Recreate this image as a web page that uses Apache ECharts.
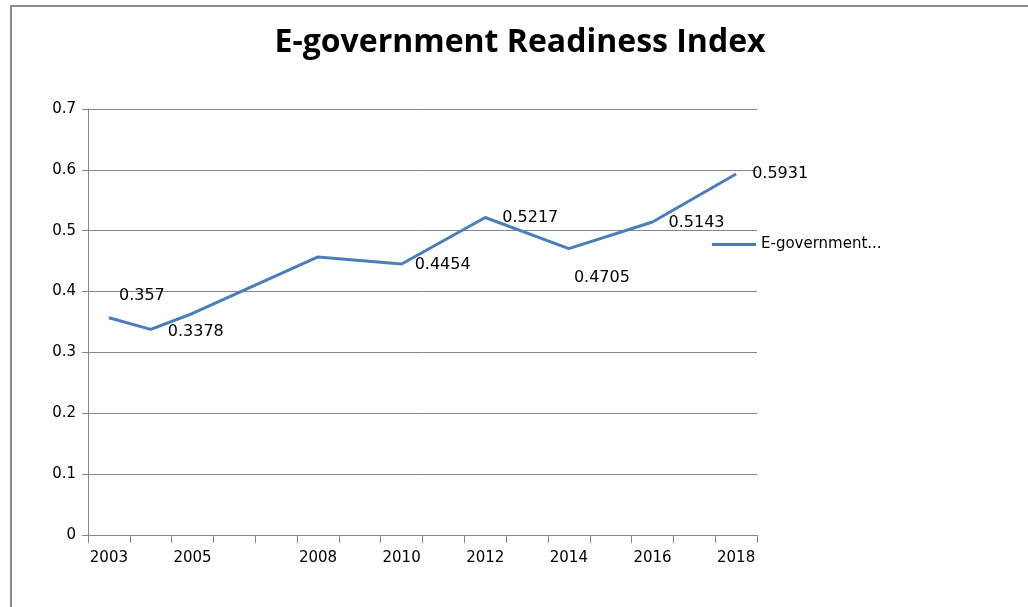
<!DOCTYPE html>
<html>
<head>
<meta charset="utf-8">
<script src="https://cdn.jsdelivr.net/npm/echarts@6/dist/echarts.min.js"></script>
<style>
  html, body { margin: 0; padding: 0; background: #fff; }
  #chart { width: 1028px; height: 607px; }
</style>
</head>
<body>
<div id="chart"></div>
<script>
// survey years on a yearly axis, gaps are years with no survey
const years = ['2003', '2004', '2005', '2006', '2007', '2008', '2009', '2010',
  '2011', '2012', '2013', '2014', '2015', '2016', '2017', '2018']
const readiness = [0.357, 0.3378, 0.364, null, null, 0.457, null, 0.4454,
  null, 0.5217, null, 0.4705, null, 0.5143, null, 0.5931]
const shownYearLabels = ['2003', '2005', '2008', '2010', '2012', '2014', '2016', '2018']
const labelledYears = ['2003', '2004', '2010', '2012', '2014', '2016', '2018']

// where each value label sits relative to its point
const labelOffsets = {
  '2003': [10, -22],
  '2004': [17, 2],
  '2010': [13, 1],
  '2012': [17, 0],
  '2014': [5, 29],
  '2016': [16, 1],
  '2018': [16, 0]
}

const chart = echarts.init(document.getElementById('chart'))

const seriesData = readiness.map((v, i) => {
  const year = years[i]
  if (v === null) return null
  return {
    value: v,
    label: {
      show: labelledYears.includes(year),
      position: 'right',
      distance: 0,
      offset: labelOffsets[year] || [0, 0]
    }
  }
})

const option = {
  backgroundColor: '#fff',
  animation: false,
  title: {
    text: 'E-government Readiness Index',
    top: 22,
    left: 515,
    textAlign: 'center',
    textStyle: {
      fontFamily: 'Open Sans',
      fontWeight: 'bold',
      fontSize: 32,
      color: '#000'
    }
  },
  legend: {
    left: 707,
    top: 232,
    icon: 'rect',
    itemWidth: 44,
    itemHeight: 3,
    itemGap: 5,
    itemStyle: { color: '#4a7ebb' },
    textStyle: {
      fontFamily: 'DejaVu Sans',
      fontSize: 15,
      color: '#000',
      width: 125,
      overflow: 'truncate',
      ellipsis: '...'
    }
  },
  grid: {
    left: 88,
    right: 271,
    top: 109,
    bottom: 72
  },
  xAxis: {
    type: 'category',
    data: years,
    boundaryGap: true,
    axisLine: { show: true, lineStyle: { color: '#868686', width: 1 } },
    axisTick: {
      show: true,
      inside: false,
      interval: 0,
      length: 8,
      lineStyle: { color: '#868686', width: 1 }
    },
    axisLabel: {
      interval: (index, value) => shownYearLabels.includes(value),
      fontFamily: 'DejaVu Sans',
      fontSize: 15,
      color: '#000',
      margin: 16
    },
    splitLine: { show: false }
  },
  yAxis: {
    type: 'value',
    min: 0,
    max: 0.7,
    interval: 0.1,
    axisLine: { show: true, lineStyle: { color: '#868686', width: 1 } },
    axisTick: { show: true, inside: false, length: 6, lineStyle: { color: '#868686', width: 1 } },
    axisLabel: {
      fontFamily: 'DejaVu Sans',
      fontSize: 15,
      color: '#000',
      margin: 12
    },
    splitLine: { lineStyle: { color: '#868686', width: 1 } }
  },
  series: [
    {
      name: 'E-government Readiness Index',
      type: 'line',
      data: seriesData,
      connectNulls: true,
      symbol: 'circle',
      symbolSize: 0.1,
      showSymbol: true,
      lineStyle: { color: '#4a7ebb', width: 3 },
      itemStyle: { color: '#4a7ebb' },
      label: {
        fontFamily: 'DejaVu Sans',
        fontSize: 16,
        color: '#000'
      }
    }
  ],
  graphic: [
    {
      type: 'polyline',
      shape: { points: [[11, 607], [11, 6], [1028, 6]] },
      style: { stroke: '#8c8c8c', lineWidth: 2, fill: null }
    }
  ]
}

chart.setOption(option)
</script>
</body>
</html>
